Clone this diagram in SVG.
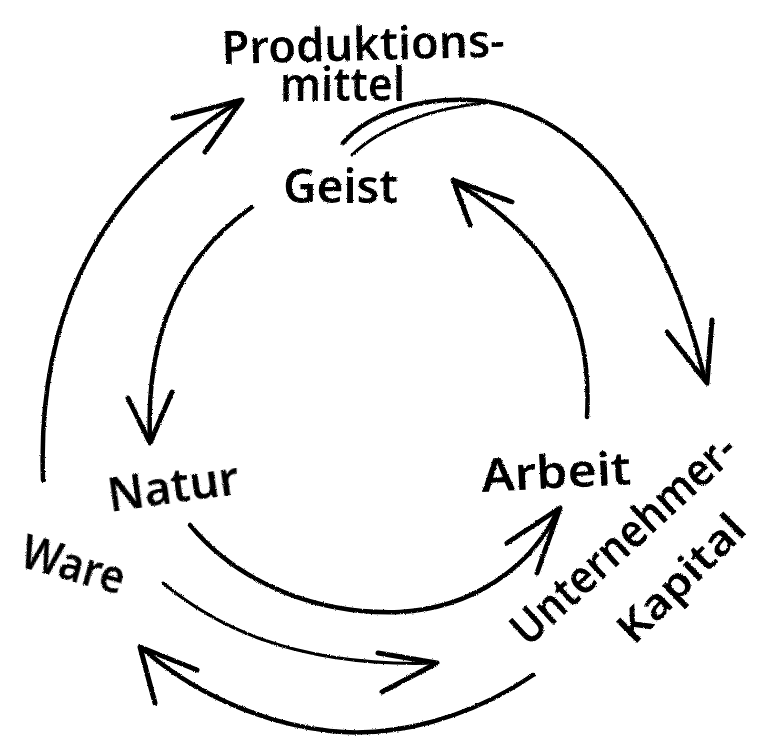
<svg xmlns="http://www.w3.org/2000/svg" width="764" height="739" viewBox="0 0 764 739">
  <defs>
    <filter id="rough" x="-5%" y="-5%" width="110%" height="110%">
      <feTurbulence type="fractalNoise" baseFrequency="0.9" numOctaves="2" seed="4" result="n"/>
      <feDisplacementMap in="SourceGraphic" in2="n" scale="2.5" xChannelSelector="R" yChannelSelector="G"/>
    </filter>
  </defs>
  <style>
    .lbl { font-family: "Noto Sans", "Liberation Sans", sans-serif; font-size: 46px; font-weight: 600; fill: #000; }
    .sm { font-size: 42px; }
    .line { fill: none; stroke: #000; stroke-width: 4.5; stroke-linecap: round; stroke-linejoin: round; }
    .thin { fill: none; stroke: #000; stroke-width: 3; stroke-linecap: round; stroke-linejoin: round; }
    .head { fill: none; stroke: #000; stroke-width: 5; stroke-linecap: round; stroke-linejoin: round; }
  </style>
  <rect width="764" height="739" fill="#fff"/>

  <g id="connectors" filter="url(#rough)">
    <!-- Ware -> Produktionsmittel -->
    <g id="c-ware-prod">
      <path class="line" d="M43,480 C38,340 80,200 238,102"/>
      <path class="head" d="M173,118 L242,100 L205,152"/>
    </g>
    <!-- Geist -> Natur -->
    <g id="c-geist-natur">
      <path class="line" d="M252,207 C190,250 145,320 150,440"/>
      <path class="head" d="M128,398 L150,443 L172,392"/>
    </g>
    <!-- Natur -> Arbeit -->
    <g id="c-natur-arbeit">
      <path class="line" d="M190,525 C240,585 320,615 400,612 C470,608 530,570 558,510"/>
      <path class="head" d="M507,543 L560,508 L537,573"/>
    </g>
    <!-- Arbeit -> Geist -->
    <g id="c-arbeit-geist">
      <path class="line" d="M587,417 C592,330 565,250 458,184"/>
      <path class="head" d="M512,202 L453,180 L470,225"/>
    </g>
    <!-- Produktionsmittel -> Unternehmer-Kapital -->
    <g id="c-prod-kapital">
      <path class="line" d="M343,143 C370,112 420,98 470,100 C560,103 660,190 705,380"/>
      <path class="thin" d="M352,155 C380,128 430,108 485,103"/>
      <path class="head" d="M667,332 L707,383 L712,320"/>
    </g>
    <!-- Ware -> Unternehmer-Kapital -->
    <g id="c-ware-kapital">
      <path class="thin" d="M163,583 C210,622 290,668 437,663"/>
      <path class="head" d="M378,653 L437,663 L382,692"/>
    </g>
    <!-- Unternehmer-Kapital -> Ware -->
    <g id="c-kapital-ware">
      <path class="line" d="M533,675 C470,718 395,738 330,731 C255,722 190,690 142,648"/>
      <path class="head" d="M197,670 L140,647 L155,703"/>
    </g>
  </g>

  <g filter="url(#rough)">
    <g id="node-produktionsmittel">
      <text class="lbl" x="222" y="64" textLength="283" lengthAdjust="spacingAndGlyphs" transform="rotate(-1.5 222 64)">Produktions-</text>
      <text class="lbl" x="280" y="101" textLength="125" lengthAdjust="spacingAndGlyphs">mittel</text>
    </g>
    <g id="node-geist">
      <text class="lbl" x="283" y="203" textLength="115" lengthAdjust="spacingAndGlyphs">Geist</text>
    </g>
    <g id="node-natur">
      <text class="lbl" x="110" y="512" textLength="132" lengthAdjust="spacingAndGlyphs" transform="rotate(-8 110 512)">Natur</text>
    </g>
    <g id="node-arbeit">
      <text class="lbl" x="482" y="492" textLength="150" lengthAdjust="spacingAndGlyphs" transform="rotate(-3 482 492)">Arbeit</text>
    </g>
    <g id="node-ware">
      <text class="lbl" x="18" y="566" textLength="106" lengthAdjust="spacingAndGlyphs" transform="rotate(16 18 566)">Ware</text>
    </g>
    <g id="node-kapital">
      <text class="lbl" x="528" y="648" textLength="288" lengthAdjust="spacingAndGlyphs" transform="rotate(-42.5 528 648)">Unternehmer-</text>
      <text class="lbl sm" x="634" y="646" textLength="162" lengthAdjust="spacingAndGlyphs" transform="rotate(-45 634 646)">Kapital</text>
    </g>
  </g>
</svg>
